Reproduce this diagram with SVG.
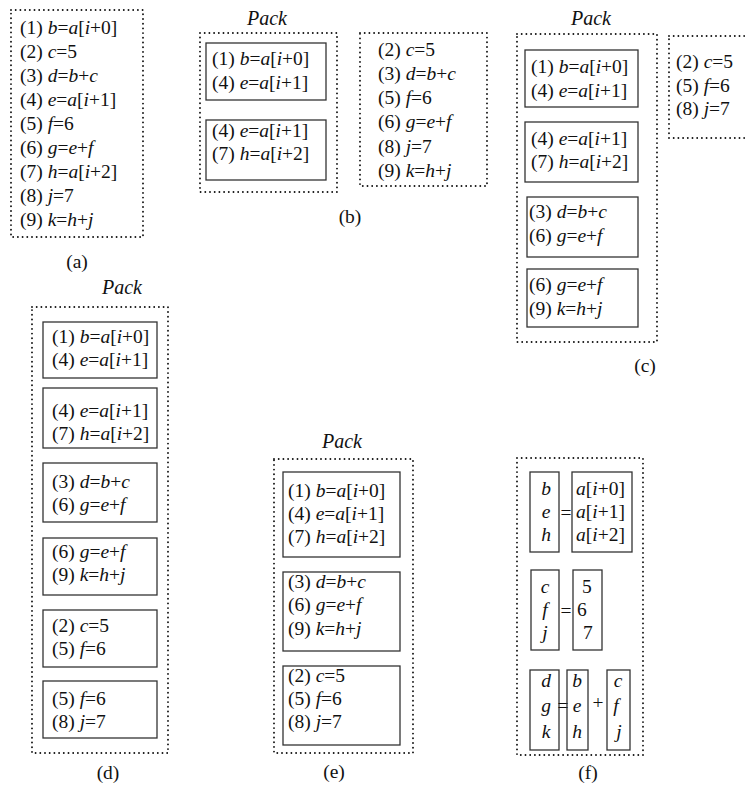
<svg xmlns="http://www.w3.org/2000/svg" width="745" height="785" viewBox="0 0 745 785" font-family="'Liberation Serif', 'Times New Roman', Times, serif">
<style>
text{font-family:'Liberation Serif','Times New Roman',Times,serif;font-size:19.5px;fill:#111}
.i{font-style:italic}
.pk{font-style:italic;font-size:20px;text-anchor:middle}
.lb{text-anchor:middle}
.m{text-anchor:middle}
.dot{fill:none;stroke:#111;stroke-width:1.9;stroke-dasharray:0 4.7;stroke-linecap:round}
.bx{fill:none;stroke:#333;stroke-width:1.3}
</style>
<rect width="745" height="785" fill="#fff"/>

<!-- (a) -->
<g id="panel-a">
<rect class="dot" x="11" y="10" width="132" height="227"/>
<text x="20" y="34">(1) <tspan class="i">b</tspan>=<tspan class="i">a</tspan>[<tspan class="i">i</tspan>+0]</text>
<text x="20" y="58">(2) <tspan class="i">c</tspan>=5</text>
<text x="20" y="82">(3) <tspan class="i">d</tspan>=<tspan class="i">b</tspan>+<tspan class="i">c</tspan></text>
<text x="20" y="106">(4) <tspan class="i">e</tspan>=<tspan class="i">a</tspan>[<tspan class="i">i</tspan>+1]</text>
<text x="20" y="130">(5) <tspan class="i">f</tspan>=6</text>
<text x="20" y="154">(6) <tspan class="i">g</tspan>=<tspan class="i">e</tspan>+<tspan class="i">f</tspan></text>
<text x="20" y="178">(7) <tspan class="i">h</tspan>=<tspan class="i">a</tspan>[<tspan class="i">i</tspan>+2]</text>
<text x="20" y="202">(8) <tspan class="i">j</tspan>=7</text>
<text x="20" y="226">(9) <tspan class="i">k</tspan>=<tspan class="i">h</tspan>+<tspan class="i">j</tspan></text>
<text class="lb" x="77" y="268">(a)</text>
</g>

<!-- (b) -->
<g id="panel-b">
<text class="pk" x="267" y="25">Pack</text>
<rect class="dot" x="200" y="33" width="137" height="159"/>
<g id="b-box1">
<rect class="bx" x="206" y="43" width="120" height="57"/>
<text x="212" y="65">(1) <tspan class="i">b</tspan>=<tspan class="i">a</tspan>[<tspan class="i">i</tspan>+0]</text>
<text x="212" y="89">(4) <tspan class="i">e</tspan>=<tspan class="i">a</tspan>[<tspan class="i">i</tspan>+1]</text>
</g>
<g id="b-box2">
<rect class="bx" x="206" y="120" width="120" height="60"/>
<text x="212" y="137">(4) <tspan class="i">e</tspan>=<tspan class="i">a</tspan>[<tspan class="i">i</tspan>+1]</text>
<text x="212" y="160">(7) <tspan class="i">h</tspan>=<tspan class="i">a</tspan>[<tspan class="i">i</tspan>+2]</text>
</g>
<g id="b-rest">
<rect class="dot" x="360" y="33" width="127" height="153"/>
<text x="378" y="56">(2) <tspan class="i">c</tspan>=5</text>
<text x="378" y="80">(3) <tspan class="i">d</tspan>=<tspan class="i">b</tspan>+<tspan class="i">c</tspan></text>
<text x="378" y="104">(5) <tspan class="i">f</tspan>=6</text>
<text x="378" y="128">(6) <tspan class="i">g</tspan>=<tspan class="i">e</tspan>+<tspan class="i">f</tspan></text>
<text x="378" y="153">(8) <tspan class="i">j</tspan>=7</text>
<text x="378" y="177">(9) <tspan class="i">k</tspan>=<tspan class="i">h</tspan>+<tspan class="i">j</tspan></text>
</g>
<text class="lb" x="350" y="223">(b)</text>
</g>

<!-- (c) -->
<g id="panel-c">
<text class="pk" x="591" y="25">Pack</text>
<rect class="dot" x="517" y="34" width="140" height="308"/>
<g id="c-box1">
<rect class="bx" x="525" y="50" width="113" height="57"/>
<text x="531" y="73">(1) <tspan class="i">b</tspan>=<tspan class="i">a</tspan>[<tspan class="i">i</tspan>+0]</text>
<text x="531" y="97">(4) <tspan class="i">e</tspan>=<tspan class="i">a</tspan>[<tspan class="i">i</tspan>+1]</text>
</g>
<g id="c-box2">
<rect class="bx" x="525" y="122" width="113" height="60"/>
<text x="531" y="145">(4) <tspan class="i">e</tspan>=<tspan class="i">a</tspan>[<tspan class="i">i</tspan>+1]</text>
<text x="531" y="168">(7) <tspan class="i">h</tspan>=<tspan class="i">a</tspan>[<tspan class="i">i</tspan>+2]</text>
</g>
<g id="c-box3">
<rect class="bx" x="527" y="197" width="111" height="60"/>
<text x="529" y="218">(3) <tspan class="i">d</tspan>=<tspan class="i">b</tspan>+<tspan class="i">c</tspan></text>
<text x="529" y="242">(6) <tspan class="i">g</tspan>=<tspan class="i">e</tspan>+<tspan class="i">f</tspan></text>
</g>
<g id="c-box4">
<rect class="bx" x="527" y="269" width="111" height="58"/>
<text x="529" y="291">(6) <tspan class="i">g</tspan>=<tspan class="i">e</tspan>+<tspan class="i">f</tspan></text>
<text x="529" y="315">(9) <tspan class="i">k</tspan>=<tspan class="i">h</tspan>+<tspan class="i">j</tspan></text>
</g>
<g id="c-rest">
<rect class="dot" x="669" y="36" width="90" height="102"/>
<text x="676" y="68">(2) <tspan class="i">c</tspan>=5</text>
<text x="676" y="92">(5) <tspan class="i">f</tspan>=6</text>
<text x="676" y="115">(8) <tspan class="i">j</tspan>=7</text>
</g>
<text class="lb" x="645" y="372">(c)</text>
</g>

<!-- (d) -->
<g id="panel-d">
<text class="pk" x="122" y="294">Pack</text>
<rect class="dot" x="32" y="307" width="136" height="446"/>
<g id="d-box1">
<rect class="bx" x="43" y="322" width="114" height="56"/>
<text x="52" y="343">(1) <tspan class="i">b</tspan>=<tspan class="i">a</tspan>[<tspan class="i">i</tspan>+0]</text>
<text x="52" y="366">(4) <tspan class="i">e</tspan>=<tspan class="i">a</tspan>[<tspan class="i">i</tspan>+1]</text>
</g>
<g id="d-box2">
<rect class="bx" x="43" y="388" width="114" height="60"/>
<text x="52" y="417">(4) <tspan class="i">e</tspan>=<tspan class="i">a</tspan>[<tspan class="i">i</tspan>+1]</text>
<text x="52" y="440">(7) <tspan class="i">h</tspan>=<tspan class="i">a</tspan>[<tspan class="i">i</tspan>+2]</text>
</g>
<g id="d-box3">
<rect class="bx" x="43" y="463" width="114" height="59"/>
<text x="52" y="488">(3) <tspan class="i">d</tspan>=<tspan class="i">b</tspan>+<tspan class="i">c</tspan></text>
<text x="52" y="511">(6) <tspan class="i">g</tspan>=<tspan class="i">e</tspan>+<tspan class="i">f</tspan></text>
</g>
<g id="d-box4">
<rect class="bx" x="43" y="538" width="114" height="57"/>
<text x="52" y="558">(6) <tspan class="i">g</tspan>=<tspan class="i">e</tspan>+<tspan class="i">f</tspan></text>
<text x="52" y="581">(9) <tspan class="i">k</tspan>=<tspan class="i">h</tspan>+<tspan class="i">j</tspan></text>
</g>
<g id="d-box5">
<rect class="bx" x="43" y="610" width="114" height="57"/>
<text x="52" y="632">(2) <tspan class="i">c</tspan>=5</text>
<text x="52" y="655">(5) <tspan class="i">f</tspan>=6</text>
</g>
<g id="d-box6">
<rect class="bx" x="43" y="681" width="114" height="57"/>
<text x="52" y="705">(5) <tspan class="i">f</tspan>=6</text>
<text x="52" y="728">(8) <tspan class="i">j</tspan>=7</text>
</g>
<text class="lb" x="108" y="779">(d)</text>
</g>

<!-- (e) -->
<g id="panel-e">
<text class="pk" x="342" y="448">Pack</text>
<rect class="dot" x="274" y="459" width="139" height="294"/>
<g id="e-box1">
<rect class="bx" x="283" y="472" width="117" height="85"/>
<text x="288" y="497">(1) <tspan class="i">b</tspan>=<tspan class="i">a</tspan>[<tspan class="i">i</tspan>+0]</text>
<text x="288" y="520">(4) <tspan class="i">e</tspan>=<tspan class="i">a</tspan>[<tspan class="i">i</tspan>+1]</text>
<text x="288" y="543">(7) <tspan class="i">h</tspan>=<tspan class="i">a</tspan>[<tspan class="i">i</tspan>+2]</text>
</g>
<g id="e-box2">
<rect class="bx" x="283" y="572" width="117" height="79"/>
<text x="288" y="588">(3) <tspan class="i">d</tspan>=<tspan class="i">b</tspan>+<tspan class="i">c</tspan></text>
<text x="288" y="611">(6) <tspan class="i">g</tspan>=<tspan class="i">e</tspan>+<tspan class="i">f</tspan></text>
<text x="288" y="635">(9) <tspan class="i">k</tspan>=<tspan class="i">h</tspan>+<tspan class="i">j</tspan></text>
</g>
<g id="e-box3">
<rect class="bx" x="283" y="666" width="117" height="79"/>
<text x="288" y="682">(2) <tspan class="i">c</tspan>=5</text>
<text x="288" y="705">(5) <tspan class="i">f</tspan>=6</text>
<text x="288" y="728">(8) <tspan class="i">j</tspan>=7</text>
</g>
<text class="lb" x="334" y="778">(e)</text>
</g>

<!-- (f) -->
<g id="panel-f">
<rect class="dot" x="517" y="458" width="126" height="297"/>
<g id="f-row1">
<rect class="bx" x="530" y="472" width="29" height="80"/>
<text class="m i" x="546" y="495">b</text>
<text class="m i" x="546" y="518">e</text>
<text class="m i" x="546" y="541">h</text>
<text class="m" x="566" y="519">=</text>
<rect class="bx" x="572" y="472" width="60" height="80"/>
<text x="576" y="495"><tspan class="i">a</tspan>[<tspan class="i">i</tspan>+0]</text>
<text x="576" y="518"><tspan class="i">a</tspan>[<tspan class="i">i</tspan>+1]</text>
<text x="576" y="541"><tspan class="i">a</tspan>[<tspan class="i">i</tspan>+2]</text>
</g>
<g id="f-row2">
<rect class="bx" x="531" y="570" width="28" height="80"/>
<text class="m i" x="545" y="593">c</text>
<text class="m i" x="545" y="616">f</text>
<text class="m i" x="545" y="639">j</text>
<text class="m" x="566" y="617">=</text>
<rect class="bx" x="573" y="570" width="29" height="80"/>
<text x="582" y="593">5</text>
<text x="577" y="616">6</text>
<text x="583" y="639">7</text>
</g>
<g id="f-row3">
<rect class="bx" x="530" y="670" width="29" height="80"/>
<text class="m i" x="546" y="687">d</text>
<text class="m i" x="546" y="712">g</text>
<text class="m i" x="546" y="738">k</text>
<text class="m" x="563" y="712">=</text>
<rect class="bx" x="567" y="670" width="21" height="80"/>
<text class="m i" x="577" y="687">b</text>
<text class="m i" x="577" y="712">e</text>
<text class="m i" x="577" y="738">h</text>
<text class="m" x="598" y="709">+</text>
<rect class="bx" x="607" y="670" width="23" height="80"/>
<text class="m i" x="618" y="687">c</text>
<text class="m i" x="616" y="712">f</text>
<text class="m i" x="619" y="738">j</text>
</g>
<text class="lb" x="588" y="779">(f)</text>
</g>
</svg>
